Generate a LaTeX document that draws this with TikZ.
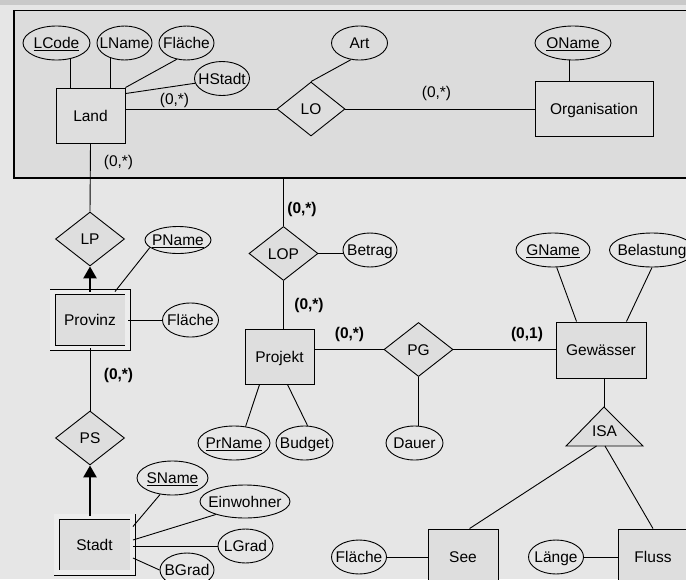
\documentclass[tikz,border=0pt]{standalone}
\usepackage{fontspec}
\setmainfont{Liberation Sans}
\usetikzlibrary{shapes.geometric,arrows.meta}
\definecolor{pagegray}{gray}{0.902}
\definecolor{stripgray}{gray}{0.79}
\definecolor{boxgray}{gray}{0.863}
\definecolor{entgray}{gray}{0.87}
\definecolor{gapgray}{gray}{0.93}
\newcommand{\ertext}[1]{\smash{\raisebox{-0.36em}{\makebox[0pt]{#1}}}}

\begin{document}
\begin{tikzpicture}[x=1pt, y=-1pt, line width=0.9pt,
  every node/.style={font=\fontsize{15.5}{18}\selectfont, inner sep=0pt},
  entity/.style={draw, fill=entgray, rectangle, minimum width=#1, minimum height=55pt},
  weak/.style={draw, fill=entgray, rectangle, double=gapgray, double distance=4.2pt, minimum width=#1, minimum height=56pt},
  relship/.style={draw, fill=entgray, diamond, minimum width=69pt, minimum height=54pt},
  attrib/.style={draw, ellipse, minimum width=#1, minimum height=34pt},
  card/.style={font=\fontsize{15.5}{18}\selectfont\bfseries},
  owner/.style={line width=2.6pt, -{Triangle[length=12pt,width=13pt]}}]
  \fill[pagegray] (0,0) rectangle (686,579);
  \fill[stripgray] (0,0) rectangle (686,5);
  \useasboundingbox (0,0) rectangle (686,579);
  \node[draw, fill=boxgray, line width=1.6pt, minimum width=676pt, minimum height=167.5pt] (agg) at (352,94.25) {};

  \node[entity=69pt] (land) at (90.5,115.5) {\ertext{Land}};
  \node[entity=118pt] (org) at (594,108.5) {\ertext{Organisation}};
  \node[relship, minimum width=68pt] (lo) at (311,109) {\ertext{LO}};
  \node[attrib=67pt] (lcode) at (56.5,43) {\ertext{\underline{LCode}}};
  \node[attrib=55pt] (lname) at (124.5,43) {\ertext{LName}};
  \node[attrib=55pt] (lflaeche) at (186.5,43) {\ertext{Fläche}};
  \node[attrib=55pt] (hstadt) at (222,78.5) {\ertext{HStadt}};
  \node[attrib=56pt] (art) at (359.5,43) {\ertext{Art}};
  \node[attrib=76pt] (oname) at (573,43) {\ertext{\underline{OName}}};
  \node (c1) at (174.5,100) {(0,*)};
  \node (c2) at (118.5,162) {(0,*)};
  \node (c3) at (436.5,93) {(0,*)};

  \node[relship] (lp) at (90,239) {\ertext{LP}};
  \node[weak=75pt] (provinz) at (90,320) {\ertext{Provinz}};
  \node[attrib=66pt, minimum height=27pt] (pname) at (178,240) {\ertext{\underline{PName}}};
  \node[attrib=56pt] (pflaeche) at (190.5,320) {\ertext{Fläche}};
  \node[relship] (ps) at (90,438) {\ertext{PS}};
  \node[weak=76pt] (stadt) at (94.5,544.5) {\ertext{Stadt}};
  \node[attrib=71pt] (sname) at (172.5,478) {\ertext{\underline{SName}}};
  \node[attrib=90pt, minimum height=33pt] (einw) at (245,501.5) {\ertext{Einwohner}};
  \node[attrib=55pt] (lgrad) at (245.5,546) {\ertext{LGrad}};
  \node[attrib=54pt] (bgrad) at (187,570) {\ertext{BGrad}};

  \node[relship] (lop) at (283.5,253.5) {\ertext{LOP}};
  \node[attrib=54pt] (betrag) at (370,250) {\ertext{Betrag}};
  \node[entity=69pt] (projekt) at (279.5,356.5) {\ertext{Projekt}};
  \node[attrib=72pt] (prname) at (234,443) {\ertext{\underline{PrName}}};
  \node[attrib=57pt] (budget) at (304.5,443) {\ertext{Budget}};
  \node[relship] (pg) at (418.5,349.5) {\ertext{PG}};
  \node[attrib=57pt] (dauer) at (414.5,443) {\ertext{Dauer}};
  \node[entity=90pt, minimum height=56pt] (gew) at (601,350) {\ertext{Gewässer}};
  \node[attrib=74pt] (gname) at (553,250) {\ertext{\underline{GName}}};
  \node[attrib=85pt] (belast) at (652,250) {\ertext{Belastung}};

  \coordinate (isatop) at (604,407);
  \filldraw[fill=entgray] (isatop) -- (566,446) -- (643,446) -- cycle;
  \node (isa) at (604.5,431) {\ertext{ISA}};
  \coordinate (isal) at (596.5,446);
  \coordinate (isar) at (605,446);
  \node[entity=70pt] (see) at (463,556.5) {\ertext{See}};
  \node[entity=70pt] (fluss) at (653,556.5) {\ertext{Fluss}};
  \node[attrib=55pt] (sflaeche) at (359,557) {\ertext{Fläche}};
  \node[attrib=55pt] (laenge) at (556,557) {\ertext{Länge}};

  \node[card] (c4) at (302,209.5) {(0,*)};
  \node[card] (c5) at (309,305) {(0,*)};
  \node[card] (c6) at (118.5,375) {(0,*)};
  \node[card] (c7) at (349.5,334) {(0,*)};
  \node[card] (c8) at (527,334.5) {(0,1)};

  \draw (lcode.-49) -- (lcode.-49 |- land.north);
  \draw (lname.-132) -- (lname.-132 |- land.north);
  \draw (lflaeche.-121) -- (land.north east);
  \draw (hstadt.190) -- ([yshift=-6pt]land.north east);
  \draw (lo.west) -- (lo.west -| land.east);
  \draw (art.-117) -- (lo.north);
  \draw (lo.east) -- (lo.east -| org.west);
  \draw (oname.-100) -- (oname.-100 |- org.north);
  \draw (land.south) -- (lp.north);
  \draw (agg.south -| lop.north) -- (lop.north);
  \draw[owner] (provinz.north -| lp.south) -- (lp.south);
  \draw (pname.-165) -- ([xshift=25pt]provinz.north);
  \draw (pflaeche.west) -- (pflaeche.west -| provinz.east);
  \draw (provinz.south) -- (ps.north);
  \draw[owner] (stadt.north -| ps.south) -- (ps.south);
  \draw (sname.-127) -- ([yshift=-10.5pt]stadt.north east);
  \draw (einw.-156) -- ([yshift=4.5pt]stadt.east);
  \draw (lgrad.west) -- (lgrad.west -| stadt.east);
  \draw (bgrad.west) -- ([yshift=-13.5pt]stadt.east);
  \draw (lop.east) -- (lop.east -| betrag.west);
  \draw (lop.south) -- (lop.south |- projekt.north);
  \draw (prname.55) -- ([xshift=15pt]projekt.south west);
  \draw (budget.80) -- ([xshift=-27pt]projekt.south east);
  \draw (pg.west) -- (pg.west -| projekt.east);
  \draw (pg.east) -- (pg.east -| gew.west);
  \draw (pg.south) -- (pg.south |- dauer.north);
  \draw (gname.-78) -- ([xshift=21pt]gew.north west);
  \draw (belast.south) -- ([xshift=-20pt]gew.north east);
  \draw (isatop |- gew.south) -- (isatop);
  \draw (isal) -- ([xshift=42pt]see.north west);
  \draw (isar) -- (fluss.north);
  \draw (sflaeche.east) -- (sflaeche.east -| see.west);
  \draw (laenge.east) -- (laenge.east -| fluss.west);
\end{tikzpicture}
\end{document}
